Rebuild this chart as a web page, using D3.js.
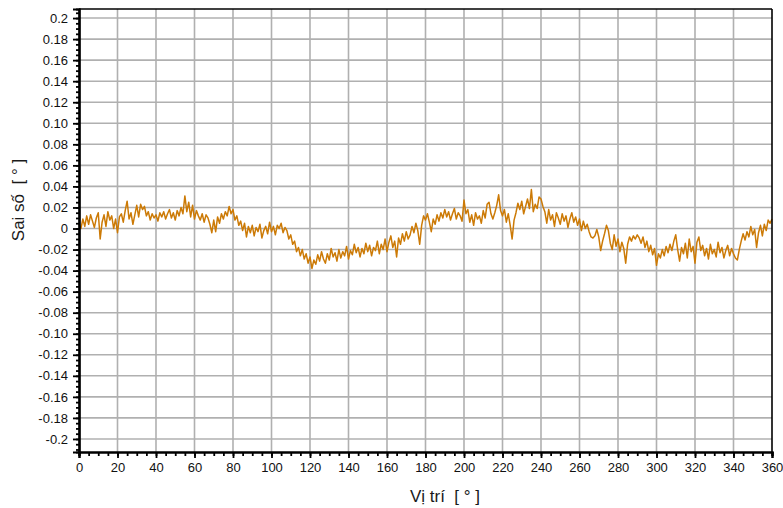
<!DOCTYPE html>
<html>
<head>
<meta charset="utf-8">
<script src="https://cdn.jsdelivr.net/npm/d3@7.9.0/dist/d3.min.js"></script>
<style>
  body { margin: 0; background: #fff; }
  svg { display: block; font-family: Arial, "Liberation Sans", sans-serif; }
</style>
</head>
<body>
<svg id="chart" width="783" height="508"></svg>
<script>
// position in degrees, one sample per degree
const positions = d3.range(0, 361);

// error values in degrees
const errors = [
  0.004, 0.000, 0.009, 0.002, 0.012, 0.004, 0.013, 0.007, 0.001, 0.010,
  0.015, -0.010, 0.006, 0.013, 0.002, 0.016, 0.008, 0.012, 0.000, 0.009,
  -0.004, 0.011, 0.014, 0.006, 0.017, 0.026, 0.009, 0.015, 0.004, 0.013,
  0.022, 0.011, 0.023, 0.018, 0.021, 0.012, 0.016, 0.008, 0.014, 0.010,
  0.013, 0.007, 0.015, 0.011, 0.016, 0.009, 0.014, 0.018, 0.010, 0.015,
  0.008, 0.017, 0.012, 0.020, 0.014, 0.031, 0.016, 0.025, 0.011, 0.022,
  0.009, 0.017, 0.012, 0.008, 0.014, 0.006, 0.013, 0.010, 0.004, -0.004,
  0.008, -0.003, 0.011, 0.005, 0.014, 0.009, 0.016, 0.012, 0.021, 0.014,
  0.018, 0.008, 0.012, 0.003, 0.007, -0.002, 0.005, -0.008, 0.002, -0.004,
  0.003, -0.007, 0.001, -0.003, 0.004, -0.009, -0.002, 0.002, -0.005, 0.006,
  -0.003, 0.002, -0.006, 0.003, 0.000, 0.005, -0.004, 0.001, -0.002, -0.010,
  -0.006, -0.015, -0.012, -0.022, -0.018, -0.026, -0.020, -0.029, -0.024, -0.033,
  -0.027, -0.038, -0.030, -0.034, -0.025, -0.031, -0.022, -0.029, -0.033, -0.024,
  -0.030, -0.019, -0.027, -0.023, -0.031, -0.020, -0.028, -0.022, -0.026, -0.017,
  -0.029, -0.021, -0.025, -0.015, -0.023, -0.018, -0.027, -0.019, -0.024, -0.014,
  -0.022, -0.016, -0.026, -0.018, -0.021, -0.012, -0.024, -0.015, -0.020, -0.010,
  -0.022, -0.013, -0.007, -0.018, -0.012, -0.027, -0.009, -0.015, -0.005, -0.012,
  -0.003, -0.010, -0.006, 0.002, -0.004, 0.005, -0.002, -0.015, 0.003, 0.012,
  0.008, 0.014, 0.006, -0.003, 0.009, 0.004, 0.013, 0.007, 0.015, 0.010,
  0.018, 0.011, 0.016, 0.008, 0.014, 0.019, 0.009, 0.015, 0.012, 0.007,
  0.027, 0.014, 0.018, 0.006, 0.013, 0.003, 0.015, 0.009, 0.012, 0.005,
  0.017, 0.010, 0.023, 0.025, 0.014, 0.009, 0.015, 0.022, 0.032, 0.017,
  0.012, 0.018, 0.006, 0.014, 0.003, -0.010, 0.008, 0.015, 0.024, 0.018,
  0.026, 0.014, 0.021, 0.028, 0.019, 0.037, 0.016, 0.023, 0.019, 0.030,
  0.028, 0.021, 0.016, 0.005, 0.018, 0.008, 0.013, 0.002, 0.015, 0.010,
  0.004, 0.014, 0.007, 0.012, 0.001, 0.009, 0.015, 0.006, 0.011, 0.003,
  0.009, -0.002, 0.007, 0.000, 0.004, -0.003, -0.008, -0.009, -0.007, -0.001,
  -0.008, -0.021, -0.012, -0.005, 0.003, -0.002, -0.014, -0.020, -0.006, -0.017,
  -0.010, -0.022, -0.013, -0.019, -0.033, -0.015, -0.008, -0.012, -0.007, -0.010,
  -0.006, -0.009, -0.014, -0.008, -0.018, -0.012, -0.022, -0.016, -0.025, -0.019,
  -0.035, -0.024, -0.028, -0.020, -0.026, -0.017, -0.023, -0.015, -0.021, -0.012,
  -0.006, -0.020, -0.031, -0.018, -0.024, -0.014, -0.028, -0.010, -0.022, -0.017,
  -0.033, -0.013, -0.008, -0.021, -0.016, -0.026, -0.019, -0.029, -0.015, -0.024,
  -0.020, -0.027, -0.013, -0.023, -0.018, -0.028, -0.021, -0.016, -0.026, -0.019,
  -0.024, -0.028, -0.030, -0.020, -0.012, -0.005, -0.011, -0.003, -0.008, 0.002,
  -0.006, -0.001, -0.018, -0.004, 0.003, -0.007, 0.004, -0.002, 0.008, 0.005,
  0.009
];

// axis ticks
const xTicks = d3.range(0, 361, 20);
const xMinorTicks = d3.range(0, 361, 5);
const yTicks = [0.2, 0.18, 0.16, 0.14, 0.12, 0.10, 0.08, 0.06, 0.04, 0.02, 0,
  -0.02, -0.04, -0.06, -0.08, -0.10, -0.12, -0.14, -0.16, -0.18, -0.2];
const yTickLabels = ["0.2", "0.18", "0.16", "0.14", "0.12", "0.10", "0.08", "0.06", "0.04", "0.02", "0",
  "-0.02", "-0.04", "-0.06", "-0.08", "-0.10", "-0.12", "-0.14", "-0.16", "-0.18", "-0.2"];
const yMinorTicks = d3.range(-210, 210, 5).map(v => v / 1000);

const xTitle = "Vị trí  [ ° ]";
const yTitle = "Sai số  [ ° ]";

const margin = { top: 9, right: 11, bottom: 56, left: 79 };
const width = 783, height = 508;
const svg = d3.select('#chart');

const x = d3.scaleLinear()
  .domain([0, 360])
  .range([margin.left, width - margin.right]);

const y = d3.scaleLinear()
  .domain([-0.2124, 0.2086])
  .range([height - margin.bottom, margin.top]);

// grid
const grid = svg.append('g').attr('stroke', '#b0b0b0').attr('stroke-width', 1.6);
grid.selectAll('line.h')
  .data(yTicks)
  .enter().append('line')
  .attr('x1', x(0)).attr('x2', x(360))
  .attr('y1', d => y(d)).attr('y2', d => y(d));
grid.selectAll('line.v')
  .data(xTicks.filter(d => d > 0 && d < 360))
  .enter().append('line')
  .attr('y1', y.range()[0]).attr('y2', y.range()[1])
  .attr('x1', d => x(d)).attr('x2', d => x(d));

// data line
const line = d3.line()
  .x((d, i) => x(positions[i]))
  .y(d => y(d));

svg.append('path')
  .datum(errors)
  .attr('d', line)
  .attr('fill', 'none')
  .attr('stroke', '#cc7a06')
  .attr('stroke-width', 1.5)
  .attr('stroke-linejoin', 'round');

// frame: top and right
svg.append('line')
  .attr('x1', x(0)).attr('x2', x(360))
  .attr('y1', margin.top).attr('y2', margin.top)
  .attr('stroke', '#000').attr('stroke-width', 1.6);
svg.append('line')
  .attr('x1', x(360)).attr('x2', x(360))
  .attr('y1', margin.top).attr('y2', y.range()[0])
  .attr('stroke', '#000').attr('stroke-width', 1.6);

// x axis
const xAxis = svg.append('g')
  .attr('transform', `translate(0,${height - margin.bottom})`);
xAxis.call(d3.axisBottom(x).tickValues(xMinorTicks).tickSize(4).tickFormat(''));
xAxis.append('g').call(d3.axisBottom(x).tickValues(xTicks).tickSize(6).tickPadding(5).tickFormat(d3.format('d')));
xAxis.selectAll('path.domain').attr('stroke', '#000').attr('stroke-width', 2.2);
xAxis.selectAll('.tick line').attr('stroke', '#000').attr('stroke-width', 1.8);
xAxis.selectAll('text').attr('font-size', 13).attr('fill', '#111')
  .attr('font-family', 'Arial, "Liberation Sans", sans-serif');
xAxis.select('g').select('path.domain').remove();

// y axis
const yAxis = svg.append('g')
  .attr('transform', `translate(${margin.left},0)`);
yAxis.call(d3.axisLeft(y).tickValues(yMinorTicks).tickSize(3).tickFormat(''));
yAxis.append('g').call(d3.axisLeft(y).tickValues(yTicks).tickSize(6).tickPadding(5)
  .tickFormat((d, i) => yTickLabels[i]));
yAxis.selectAll('path.domain').attr('stroke', '#000').attr('stroke-width', 2.2);
yAxis.selectAll('.tick line').attr('stroke', '#000').attr('stroke-width', 1.8);
yAxis.selectAll('text').attr('font-size', 13).attr('fill', '#111')
  .attr('font-family', 'Arial, "Liberation Sans", sans-serif');
yAxis.select('g').select('path.domain').remove();

// titles
svg.append('text')
  .attr('x', 445).attr('y', 502)
  .attr('text-anchor', 'middle')
  .attr('font-size', 17).attr('fill', '#1a1a1a')
  .style('white-space', 'pre')
  .text(xTitle);

svg.append('text')
  .attr('transform', 'translate(24,200) rotate(-90)')
  .attr('text-anchor', 'middle')
  .attr('font-size', 17).attr('fill', '#1a1a1a')
  .style('white-space', 'pre')
  .text(yTitle);
</script>
</body>
</html>
